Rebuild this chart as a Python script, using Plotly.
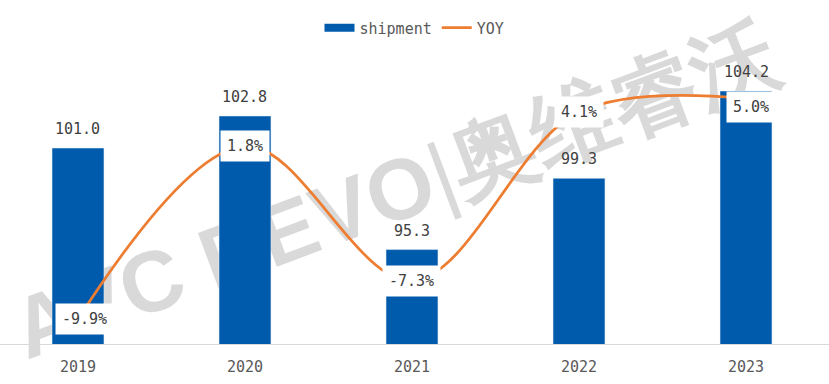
import plotly.graph_objects as go

years = ["2019", "2020", "2021", "2022", "2023"]
shipment = [101.0, 102.8, 95.3, 99.3, 104.2]
yoy = [-9.9, 1.8, -7.3, 4.1, 5.0]
yoy_labels = ["-9.9%", "1.8%", "-7.3%", "4.1%", "5.0%"]

BLUE = "#005BAC"
ORANGE = "#ED7D31"
TXT = "#404040"
TICK = "#595959"
FONT = "DejaVu Sans Mono"

xs = list(range(len(years)))

fig = go.Figure()
# legend proxy for bars (wide rectangle swatch)
fig.add_trace(go.Scatter(x=[None], y=[None], name="shipment", mode="lines",
                         line=dict(color=BLUE, width=8), showlegend=True))
fig.add_trace(go.Bar(
    x=xs, y=shipment, name="shipment", marker_color=BLUE, width=0.311,
    showlegend=False,
))
fig.add_trace(go.Scatter(
    x=xs, y=yoy, name="YOY", mode="lines", yaxis="y2",
    line=dict(color=ORANGE, width=2.75, shape="spline", smoothing=1.0),
))

for x, v in zip(xs, shipment):
    fig.add_annotation(x=x, y=v, xref="x", yref="y", text=f"{v:.1f}", showarrow=False,
                       yshift=19, font=dict(size=15, color=TXT, family=FONT))

label_shift = [(7, 0), (0, 0), (0, 0), (0, 0), (5, -8)]
for (x, v, lab), (dx, dy) in zip(zip(xs, yoy, yoy_labels), label_shift):
    fig.add_annotation(x=x, y=v, xref="x", yref="y2", text=lab, showarrow=False,
                       bgcolor="white", borderpad=6, xshift=dx, yshift=dy,
                       font=dict(size=15, color=TXT, family=FONT))

# watermark (behind the bars)
fig.add_shape(type="line", xref="paper", yref="paper",
              x0=0.024, y0=0.077, x1=0.923, y1=1.0526, layer="below",
              line=dict(width=0, color="rgba(0,0,0,0)"),
              label=dict(text="<b>AVC REVO</b>|<b>奥维睿沃</b>", textposition="middle",
                         yanchor="middle", padding=0,
                         font=dict(size=86, color="#d9d9d9", family="Liberation Sans")))

fig.update_layout(
    width=829, height=384,
    margin=dict(l=0, r=0, t=59, b=40),
    plot_bgcolor="white", paper_bgcolor="white",
    font=dict(family=FONT, color=TXT),
    showlegend=True,
    legend=dict(orientation="h", x=0.5, xanchor="center", y=1.109, yanchor="middle",
                font=dict(size=15, color=TICK, family=FONT), traceorder="normal",
                itemwidth=30),
    xaxis=dict(tickmode="array", tickvals=xs, ticktext=years, range=[-0.467, 4.497],
               showline=True, linecolor="#d9d9d9", linewidth=1, ticks="",
               ticklabelstandoff=9,
               tickfont=dict(size=15, color=TICK, family=FONT), showgrid=False, zeroline=False),
    yaxis=dict(range=[90, 106], visible=False, showgrid=False, zeroline=False),
    yaxis2=dict(range=[-11.58, 7.68], overlaying="y", side="right", visible=False,
                showgrid=False, zeroline=False),
)

fig.write_html("out.html", config={"displayModeBar": False},
               post_script="document.body.style.margin='0';")
